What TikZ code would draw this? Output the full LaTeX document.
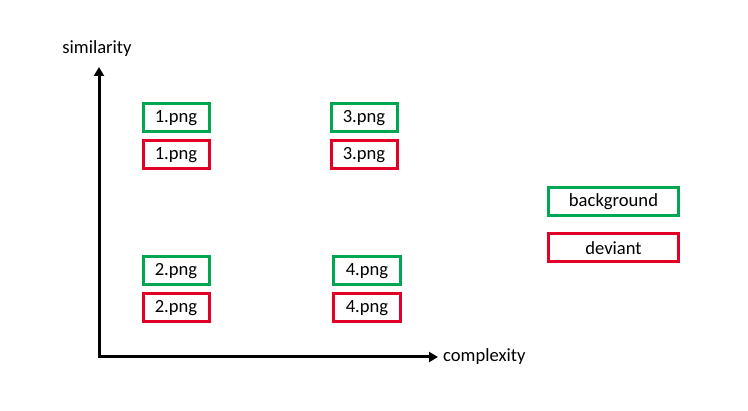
\documentclass[tikz,border=0pt]{standalone}
\usepackage{fontspec}
\setmainfont{Carlito}
\usetikzlibrary{arrows.meta}
\definecolor{bggreen}{RGB}{0,166,81}
\definecolor{devred}{RGB}{226,0,38}
\begin{document}
\begin{tikzpicture}[x=1pt,y=-1pt,
  lbl/.style={font=\fontsize{18.6}{22}\selectfont,inner sep=0pt},
  gbox/.style={draw=bggreen,line width=3pt,minimum height=28pt,inner sep=0pt,font=\fontsize{18.6}{22}\selectfont},
  rbox/.style={draw=devred,line width=3pt,minimum height=28pt,inner sep=0pt,font=\fontsize{18.6}{22}\selectfont},
  axis/.style={line width=3pt,-{Triangle[length=9pt,width=10pt]}}]
\useasboundingbox (0,0) rectangle (748,411);
\coordinate (o) at (99,357);
\coordinate (ytip) at (99,67);
\coordinate (xtip) at (438,357);
\draw[axis] ([yshift=1.5pt]o) -- (ytip);
\draw[axis] ([xshift=-1.5pt]o) -- (xtip);
\node[lbl] (sim) at (97,49) {similarity};
\node[lbl,anchor=west] (cx) at (443,357) {complexity};
\node[gbox,minimum width=66pt] (g1) at (176,118) {1.png};
\node[rbox,minimum width=66pt] (r1) at (176,155) {1.png};
\node[gbox,minimum width=66pt] (g3) at (364,118) {3.png};
\node[rbox,minimum width=66pt] (r3) at (364,155) {3.png};
\node[gbox,minimum width=66pt] (g2) at (176,271) {2.png};
\node[rbox,minimum width=66pt] (r2) at (176,308) {2.png};
\node[gbox,minimum width=67pt] (g4) at (367,271) {4.png};
\node[rbox,minimum width=67pt] (r4) at (367,308) {4.png};
\node[gbox,minimum width=130pt] (bg) at (613.5,201.5) {background};
\node[rbox,minimum width=130pt] (dv) at (613.5,248) {deviant};
\end{tikzpicture}
\end{document}
